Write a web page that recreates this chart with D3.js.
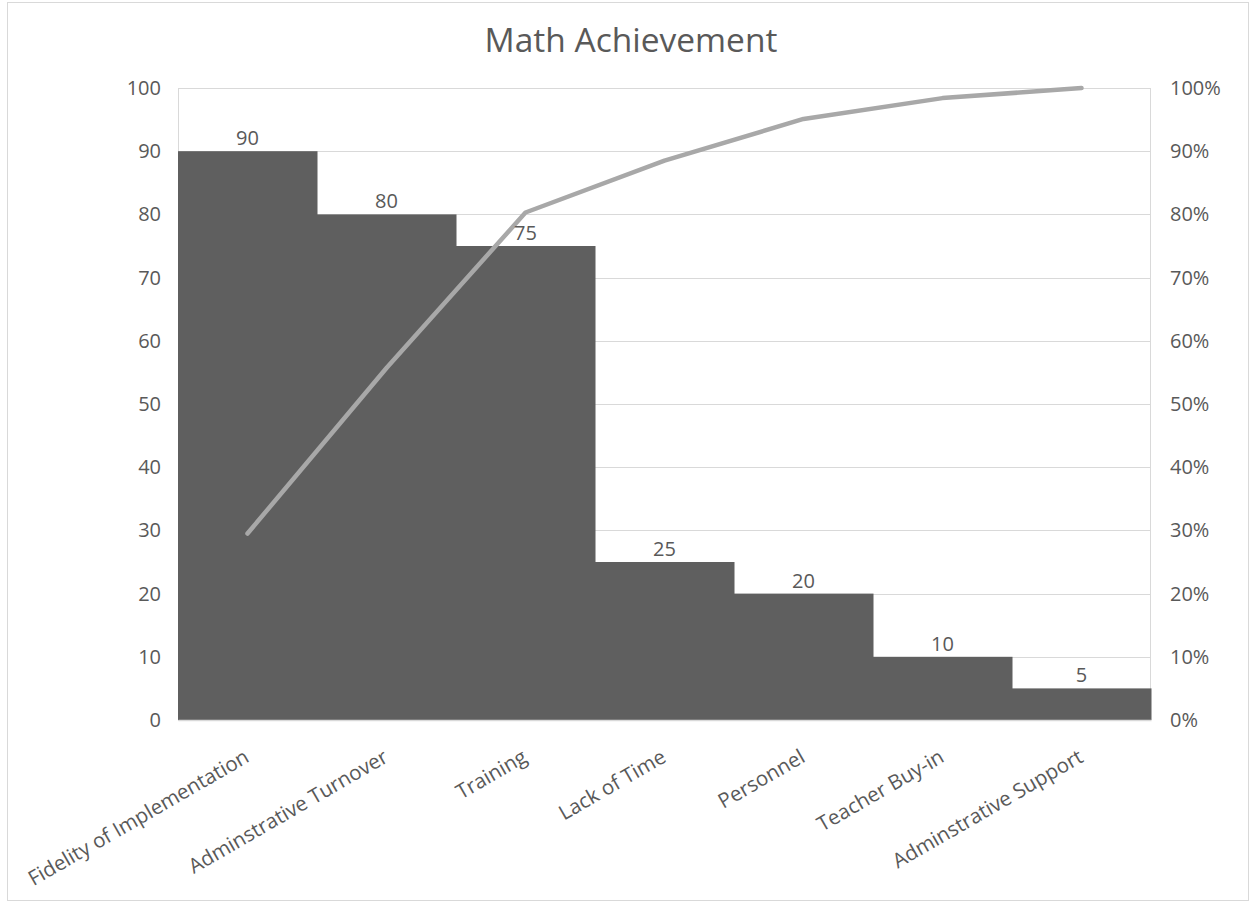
<!DOCTYPE html>
<html>
<head>
<meta charset="utf-8">
<script src="https://cdn.jsdelivr.net/npm/d3@7"></script>
<style>
  body { margin: 0; background: #fff; }
  text { font-family: "Open Sans", sans-serif; fill: #595959; }
</style>
</head>
<body>
<div id="chart"></div>
<script>
// values
var categories = ["Fidelity of Implementation", "Adminstrative Turnover", "Training",
                  "Lack of Time", "Personnel", "Teacher Buy-in", "Adminstrative Support"];
var counts = [90, 80, 75, 25, 20, 10, 5];
var cumulativePct = [29.5, 55.7, 80.3, 88.5, 95.1, 98.4, 100];
var leftTicks = [0, 10, 20, 30, 40, 50, 60, 70, 80, 90, 100];
var rightTicks = [0, 10, 20, 30, 40, 50, 60, 70, 80, 90, 100];

var W = 1253, H = 904;
var margin = {top: 88, right: 102, bottom: 184, left: 178},
    width = W - margin.left - margin.right,
    height = H - margin.top - margin.bottom;

var svg = d3.select("#chart").append("svg")
    .attr("width", W)
    .attr("height", H);

// outer chart frame
svg.append("rect")
    .attr("x", 7.5).attr("y", 2.5)
    .attr("width", W - 12).attr("height", H - 6)
    .attr("fill", "none").attr("stroke", "#d9d9d9");

svg.append("text")
    .attr("x", 631).attr("y", 52)
    .attr("text-anchor", "middle")
    .style("font-size", "33.5px")
    .text("Math Achievement");

var g = svg.append("g")
    .attr("transform", "translate(" + margin.left + "," + margin.top + ")");

var x = d3.scaleBand().domain(categories).range([0, width]).padding(0);
var y = d3.scaleLinear().domain([0, 100]).range([height, 0]);
var y2 = d3.scaleLinear().domain([0, 100]).range([height, 0]);

// gridlines
g.selectAll(".grid")
  .data(leftTicks)
  .enter().append("line")
    .attr("x1", 0).attr("x2", width)
    .attr("y1", function(d) { return Math.round(y(d)) + 0.5; })
    .attr("y2", function(d) { return Math.round(y(d)) + 0.5; })
    .attr("stroke", "#d9d9d9").attr("stroke-width", 1);

// plot frame sides
g.append("line").attr("x1", 0.5).attr("x2", 0.5).attr("y1", 0).attr("y2", height)
    .attr("stroke", "#d9d9d9");
g.append("line").attr("x1", width - 0.5).attr("x2", width - 0.5).attr("y1", 0).attr("y2", height)
    .attr("stroke", "#d9d9d9");

// bars
g.selectAll(".bar")
  .data(counts)
  .enter().append("rect")
    .attr("class", "bar")
    .attr("x", function(d, i) { return x(categories[i]); })
    .attr("width", x.bandwidth() + 0.5)
    .attr("y", function(d) { return y(d); })
    .attr("height", function(d) { return height - y(d); })
    .attr("fill", "#5f5f5f");

// cumulative line
var line = d3.line()
    .x(function(d, i) { return x(categories[i]) + x.bandwidth() / 2; })
    .y(function(d) { return y2(d); });

g.append("path")
    .datum(cumulativePct)
    .attr("d", line)
    .attr("fill", "none")
    .attr("stroke", "#a8a8a8")
    .attr("stroke-width", 4.5)
    .attr("stroke-linecap", "round")
    .attr("stroke-linejoin", "round");

// data labels
g.selectAll(".label")
  .data(counts)
  .enter().append("text")
    .attr("x", function(d, i) { return x(categories[i]) + x.bandwidth() / 2; })
    .attr("y", function(d) { return y(d) - 6; })
    .attr("text-anchor", "middle")
    .style("font-size", "20px")
    .text(function(d) { return d; });

// left axis
var yAxis = d3.axisLeft(y).tickValues(leftTicks).tickSize(0).tickPadding(17);
var ya = g.append("g").call(yAxis);
ya.select(".domain").remove();
ya.selectAll("text").style("font-size", "20px").attr("fill", "#595959");

// right axis
var yAxisR = d3.axisRight(y2).tickValues(rightTicks).tickSize(0).tickPadding(19)
    .tickFormat(function(d) { return d + "%"; });
var yr = g.append("g").attr("transform", "translate(" + width + ",0)").call(yAxisR);
yr.select(".domain").remove();
yr.selectAll("text").style("font-size", "20px").attr("fill", "#595959");

// category axis
var xAxis = d3.axisBottom(x).tickSize(0).tickPadding(0);
var xa = g.append("g").attr("transform", "translate(0," + height + ")").call(xAxis);
xa.select(".domain").attr("stroke", "#d9d9d9").attr("stroke-width", 1.5);
xa.selectAll("text")
    .style("font-size", "20.5px")
    .attr("fill", "#595959")
    .attr("text-anchor", "end")
    .attr("dy", "0")
    .attr("y", 0)
    .attr("transform", "translate(3,41) rotate(-30)");
</script>
</body>
</html>
